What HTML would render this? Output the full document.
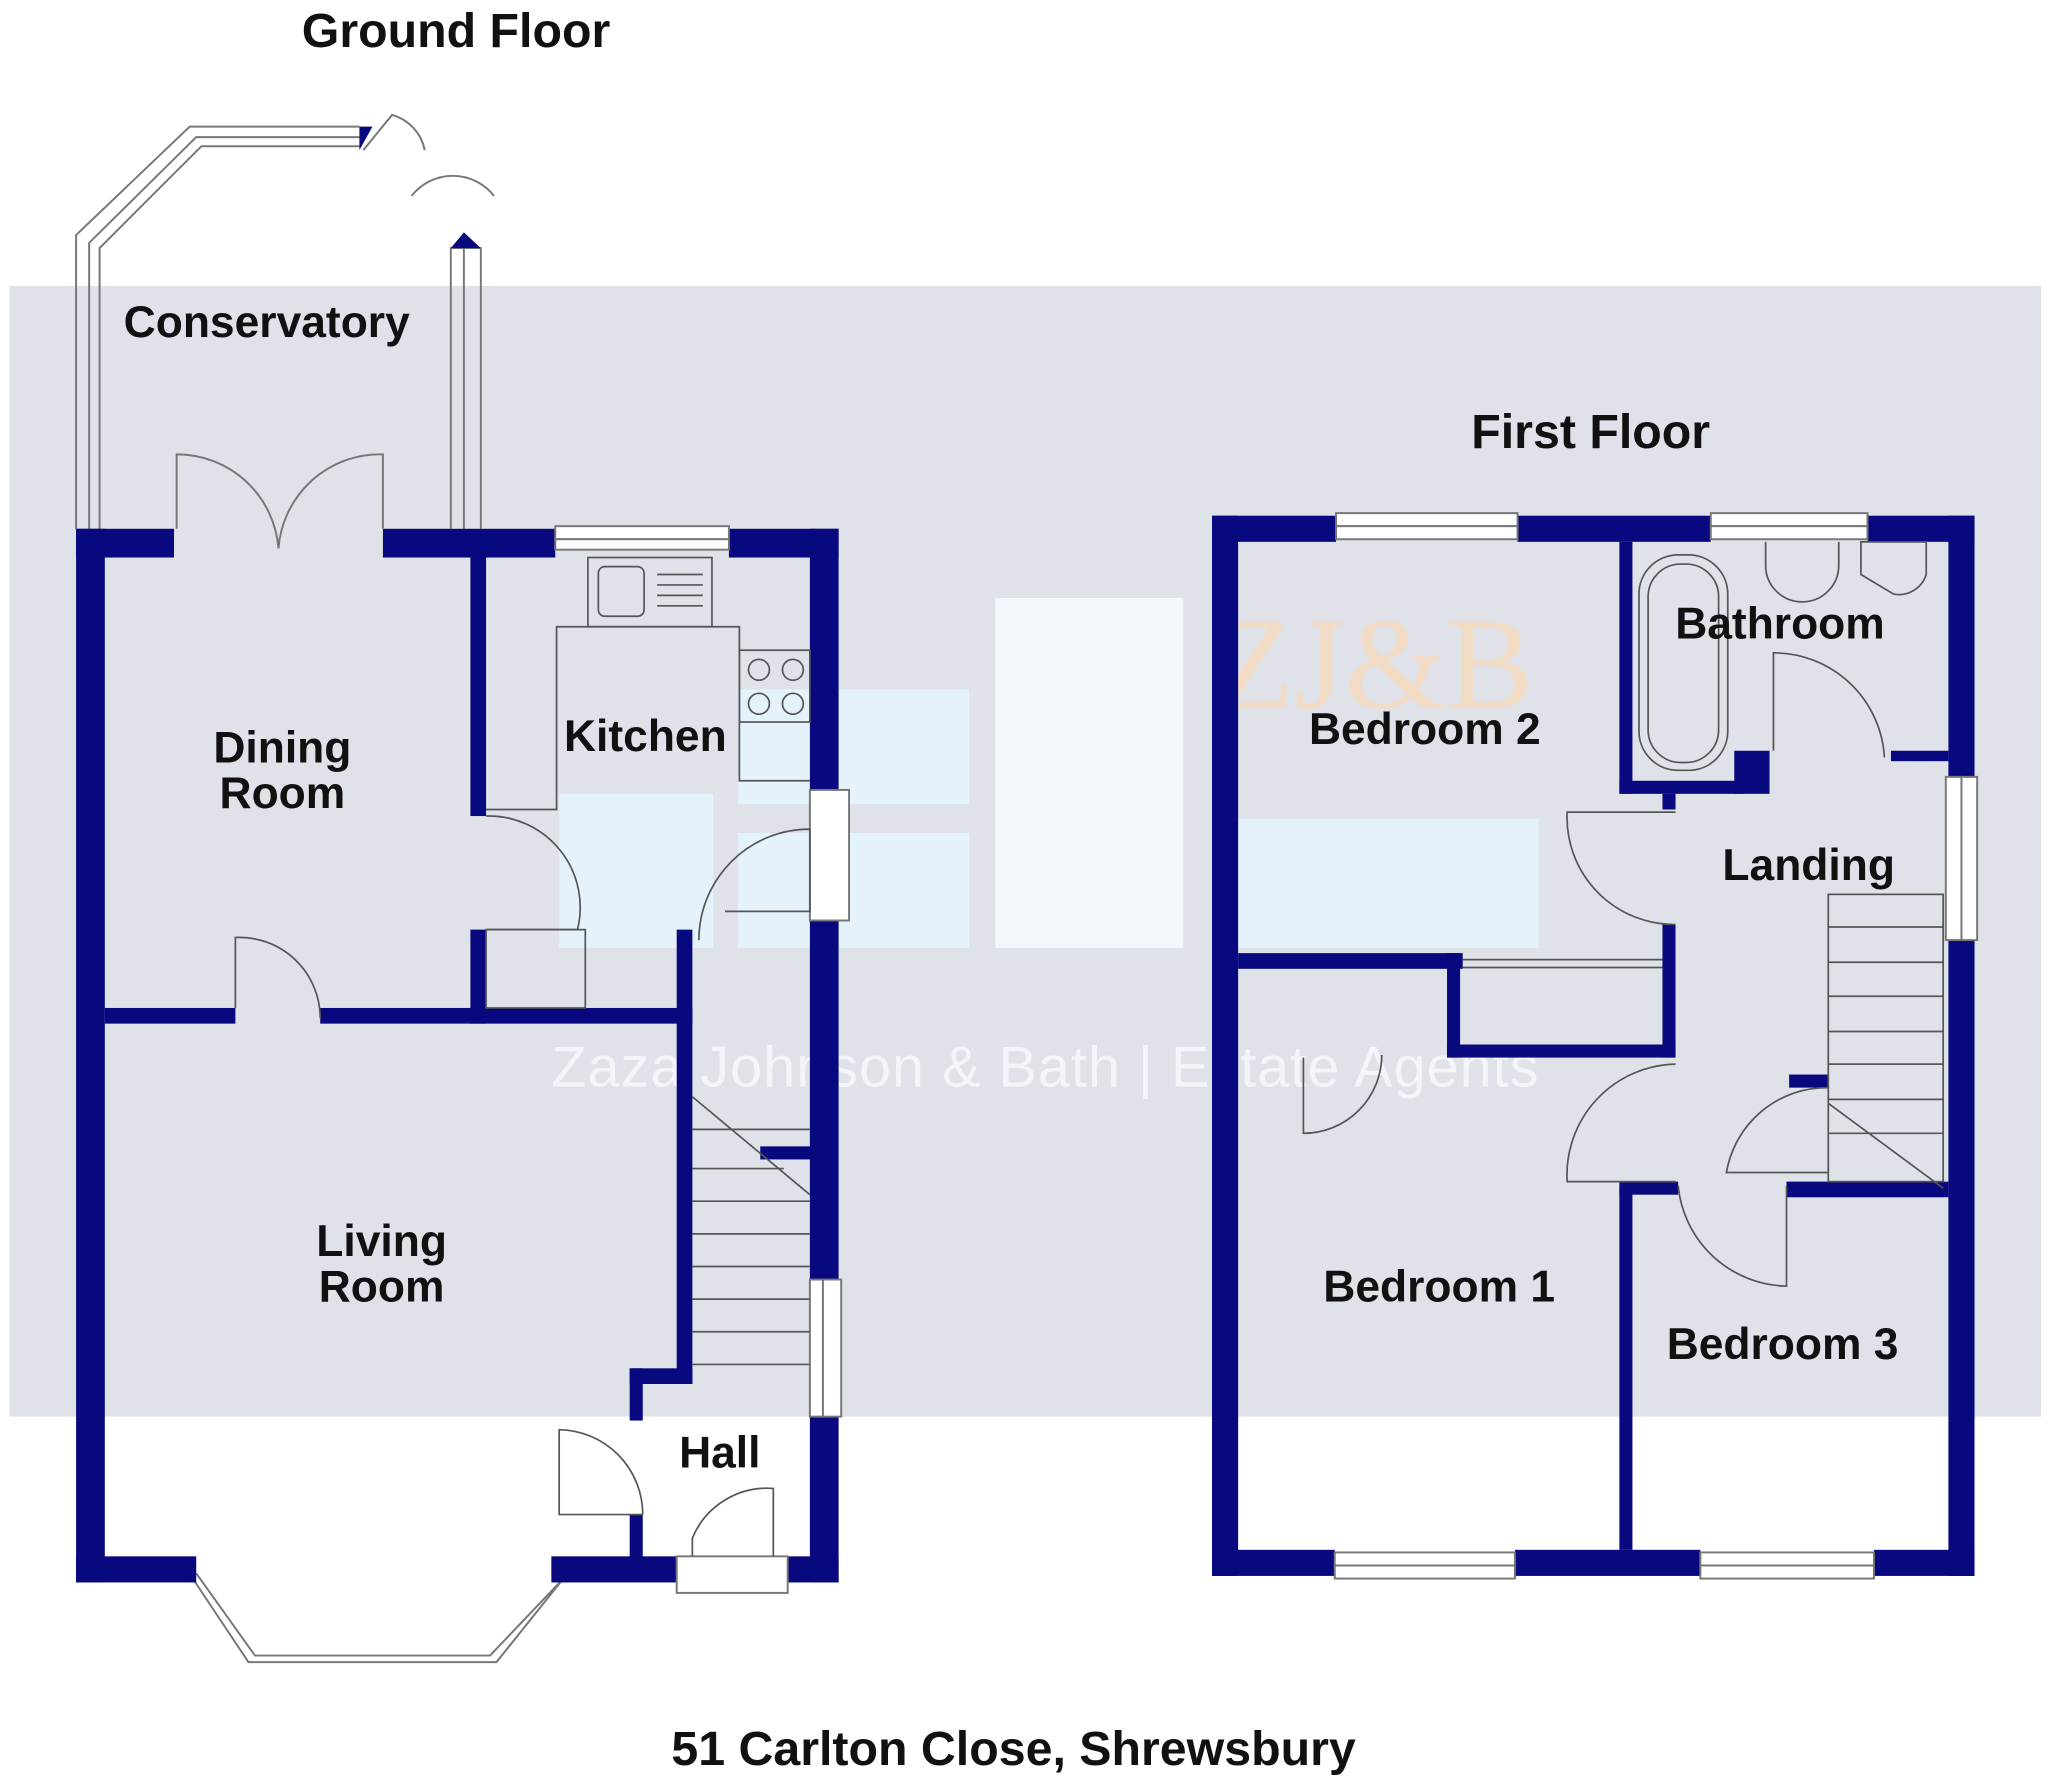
<!DOCTYPE html>
<html><head><meta charset="utf-8"><style>
html,body{margin:0;padding:0;background:#fff;}
svg{display:block;}
text{font-family:"Liberation Sans",Arial,sans-serif;font-weight:bold;fill:#111;}
</style></head><body>
<svg width="2048" height="1777" viewBox="0 0 1568 1361" xmlns="http://www.w3.org/2000/svg">
<rect width="1568" height="1361" fill="#fff"/>
<rect x="7" y="219" width="1556" height="866" fill="#dfe2e8"/>
<g fill="#e4f2fb">
<rect x="762" y="458" width="144" height="268" fill="#f2f7fb"/>
<rect x="565" y="528" width="177" height="88"/>
<rect x="428" y="608" width="118" height="118"/>
<rect x="565" y="638" width="177" height="88"/>
<rect x="928" y="627" width="250" height="99"/>
</g>
<text x="1052" y="542" font-size="100" text-anchor="middle" style="fill:#f3dcc6;font-weight:normal;font-family:'Liberation Serif',serif">ZJ&amp;B</text>
<text x="800" y="832" font-size="44" text-anchor="middle" textLength="756" style="fill:#f4f5f8;font-weight:normal">Zaza Johnson &amp; Bath  |  Estate Agents</text>
<g fill="none" stroke="#777" stroke-width="1.5">
<polyline points="58,405 58,180 145,97 275,97"/>
<polyline points="68,405 68,186 150,105 275,105"/>
<polyline points="76,405 76,190 154,112 275,112"/>
<polyline points="345,405 345,190 368,190 368,405"/>
<line x1="355" y1="190" x2="355" y2="405"/>
<path d="M278,115 L300,88 A35,35 0 0 1 325,115"/>
<path d="M315,150 A40,40 0 0 1 378,150"/>
<path d="M135,405 L135,348 A78,78 0 0 1 213,420"/>
<path d="M293,405 L293,348 A78,78 0 0 0 213,420"/>
<polyline points="150,1205 195,1268 375,1268 435,1205"/>
<polyline points="140,1198 190,1273 380,1273 440,1198"/>
</g>
<polygon points="275,97 285,97 275,115" fill="#08087f"/>
<polygon points="345,190 368,190 355,178" fill="#08087f"/>
<g fill="#08087f">
<rect x="58" y="405" width="22" height="807"/>
<rect x="58" y="1192" width="92" height="20"/>
<rect x="422" y="1192" width="96" height="20"/>
<rect x="603" y="1192" width="39" height="20"/>
<rect x="620" y="405" width="22" height="200"/>
<rect x="620" y="705" width="22" height="275"/>
<rect x="620" y="1085" width="22" height="127"/>
<rect x="58" y="405" width="75" height="22"/>
<rect x="293" y="405" width="132" height="22"/>
<rect x="558" y="405" width="84" height="22"/>
<rect x="360" y="427" width="12" height="198"/>
<rect x="360" y="712" width="12" height="72"/>
<rect x="80" y="772" width="100" height="12"/>
<rect x="245" y="772" width="285" height="12"/>
<rect x="518" y="712" width="12" height="348"/>
<rect x="482" y="1048" width="48" height="12"/>
<rect x="482" y="1048" width="10" height="40"/>
<rect x="482" y="1160" width="10" height="40"/>
<rect x="582" y="878" width="40" height="10"/>
<rect x="928" y="395" width="20" height="812"/>
<rect x="1492" y="395" width="20" height="200"/>
<rect x="1492" y="720" width="20" height="487"/>
<rect x="928" y="395" width="95" height="20"/>
<rect x="1162" y="395" width="148" height="20"/>
<rect x="1430" y="395" width="82" height="20"/>
<rect x="928" y="1187" width="94" height="20"/>
<rect x="1160" y="1187" width="142" height="20"/>
<rect x="1435" y="1187" width="77" height="20"/>
<rect x="1240" y="415" width="10" height="193"/>
<rect x="1240" y="598" width="95" height="10"/>
<rect x="1328" y="575" width="27" height="33"/>
<rect x="1448" y="575" width="44" height="8"/>
<rect x="948" y="730" width="172" height="12"/>
<rect x="1108" y="730" width="10" height="80"/>
<rect x="1108" y="800" width="175" height="10"/>
<rect x="1273" y="708" width="10" height="102"/>
<rect x="1240" y="908" width="10" height="279"/>
<rect x="1240" y="905" width="45" height="10"/>
<rect x="1368" y="905" width="124" height="12"/>
<rect x="1370" y="823" width="30" height="10"/>
<rect x="1273" y="608" width="10" height="12"/>
</g>
<g fill="#fff" stroke="#777" stroke-width="1.5">
<rect x="425" y="403" width="133" height="10"/><rect x="425" y="413" width="133" height="8"/>
<rect x="620" y="980" width="10" height="105"/><rect x="630" y="980" width="14" height="105"/>
<rect x="620" y="605" width="30" height="100"/>
<rect x="518" y="1192" width="85" height="28"/>
<rect x="1023" y="393" width="139" height="10"/><rect x="1023" y="403" width="139" height="10"/>
<rect x="1310" y="393" width="120" height="10"/><rect x="1310" y="403" width="120" height="10"/>
<rect x="1022" y="1189" width="138" height="10"/><rect x="1022" y="1199" width="138" height="10"/>
<rect x="1302" y="1189" width="133" height="10"/><rect x="1302" y="1199" width="133" height="10"/>
<rect x="1490" y="595" width="12" height="125"/><rect x="1502" y="595" width="12" height="125"/>
</g>
<g fill="none" stroke="#555" stroke-width="1.3">
<rect x="450" y="427" width="95" height="53"/>
<rect x="458" y="434" width="35" height="38" rx="5"/>
<line x1="503" y1="440" x2="538" y2="440"/><line x1="503" y1="448" x2="538" y2="448"/><line x1="503" y1="456" x2="538" y2="456"/><line x1="503" y1="464" x2="538" y2="464"/>
<polyline points="372,620 426,620 426,480 566,480 566,598 620,598"/>
<rect x="566" y="498" width="54" height="55"/>
<circle cx="581" cy="513" r="8"/><circle cx="607" cy="513" r="8"/><circle cx="581" cy="539" r="8"/><circle cx="607" cy="539" r="8"/>
<path d="M372,625 A70,70 0 0 1 442,712 L372,712"/>
<rect x="372" y="712" width="76" height="60"/>
<path d="M180,772 L180,718 A62,62 0 0 1 245,780"/>
<path d="M535,720 A85,85 0 0 1 620,635 L620,698 L555,698"/>
<path d="M492,1160 L428,1160 L428,1095 A65,65 0 0 1 492,1160"/>
<path d="M530,1192 L530,1178 A62,62 0 0 1 592,1140 L592,1192"/>
<polyline points="530,840 620,915"/>
<line x1="530" y1="865" x2="620" y2="865"/>
<line x1="530" y1="945" x2="620" y2="945"/><line x1="530" y1="970" x2="620" y2="970"/><line x1="530" y1="995" x2="620" y2="995"/><line x1="530" y1="1020" x2="620" y2="1020"/><line x1="530" y1="1045" x2="620" y2="1045"/>
<line x1="530" y1="920" x2="620" y2="920"/><line x1="530" y1="895" x2="600" y2="895"/>
<rect x="1255" y="425" width="68" height="165" rx="30"/>
<rect x="1262" y="432" width="54" height="152" rx="25"/>
<path d="M1352,415 L1352,433 A28,28 0 0 0 1408,433 L1408,415"/>
<path d="M1425,415 L1475,415 L1475,440 A22,22 0 0 1 1450,455 L1425,440 Z"/>
<path d="M1358,575 L1358,500 A85,85 0 0 1 1443,580"/>
<path d="M1283,622 L1200,622 A82,82 0 0 0 1283,708"/>
<line x1="1120" y1="735" x2="1273" y2="735"/><line x1="1120" y1="741" x2="1273" y2="741"/>
<path d="M998,810 L998,868 A60,60 0 0 0 1058,808"/>
<path d="M1283,815 A85,85 0 0 0 1200,905 L1283,905"/>
<path d="M1285,908 A85,85 0 0 0 1368,985 L1368,908"/>
<path d="M1400,833 A78,78 0 0 0 1322,898 L1400,898"/>
<rect x="1400" y="685" width="88" height="220"/>
<line x1="1400" y1="710" x2="1488" y2="710"/><line x1="1400" y1="737" x2="1488" y2="737"/><line x1="1400" y1="763" x2="1488" y2="763"/><line x1="1400" y1="790" x2="1488" y2="790"/><line x1="1400" y1="815" x2="1488" y2="815"/><line x1="1400" y1="842" x2="1488" y2="842"/><line x1="1400" y1="868" x2="1488" y2="868"/>
<line x1="1400" y1="845" x2="1488" y2="910"/>
</g>
<g font-size="37">
<text x="349" y="36" text-anchor="middle">Ground Floor</text>
<text x="1218" y="343" text-anchor="middle">First Floor</text>
<text x="776" y="1352" text-anchor="middle">51 Carlton Close, Shrewsbury</text>
</g>
<g font-size="34">
<text x="204" y="258" text-anchor="middle">Conservatory</text>
<text x="216" y="584" text-anchor="middle">Dining</text>
<text x="216" y="619" text-anchor="middle">Room</text>
<text x="494" y="575" text-anchor="middle">Kitchen</text>
<text x="292" y="962" text-anchor="middle">Living</text>
<text x="292" y="997" text-anchor="middle">Room</text>
<text x="551" y="1124" text-anchor="middle">Hall</text>
<text x="1091" y="570" text-anchor="middle">Bedroom 2</text>
<text x="1363" y="489" text-anchor="middle">Bathroom</text>
<text x="1385" y="674" text-anchor="middle">Landing</text>
<text x="1102" y="997" text-anchor="middle">Bedroom 1</text>
<text x="1365" y="1041" text-anchor="middle">Bedroom 3</text>
</g>
</svg>
</body></html>
